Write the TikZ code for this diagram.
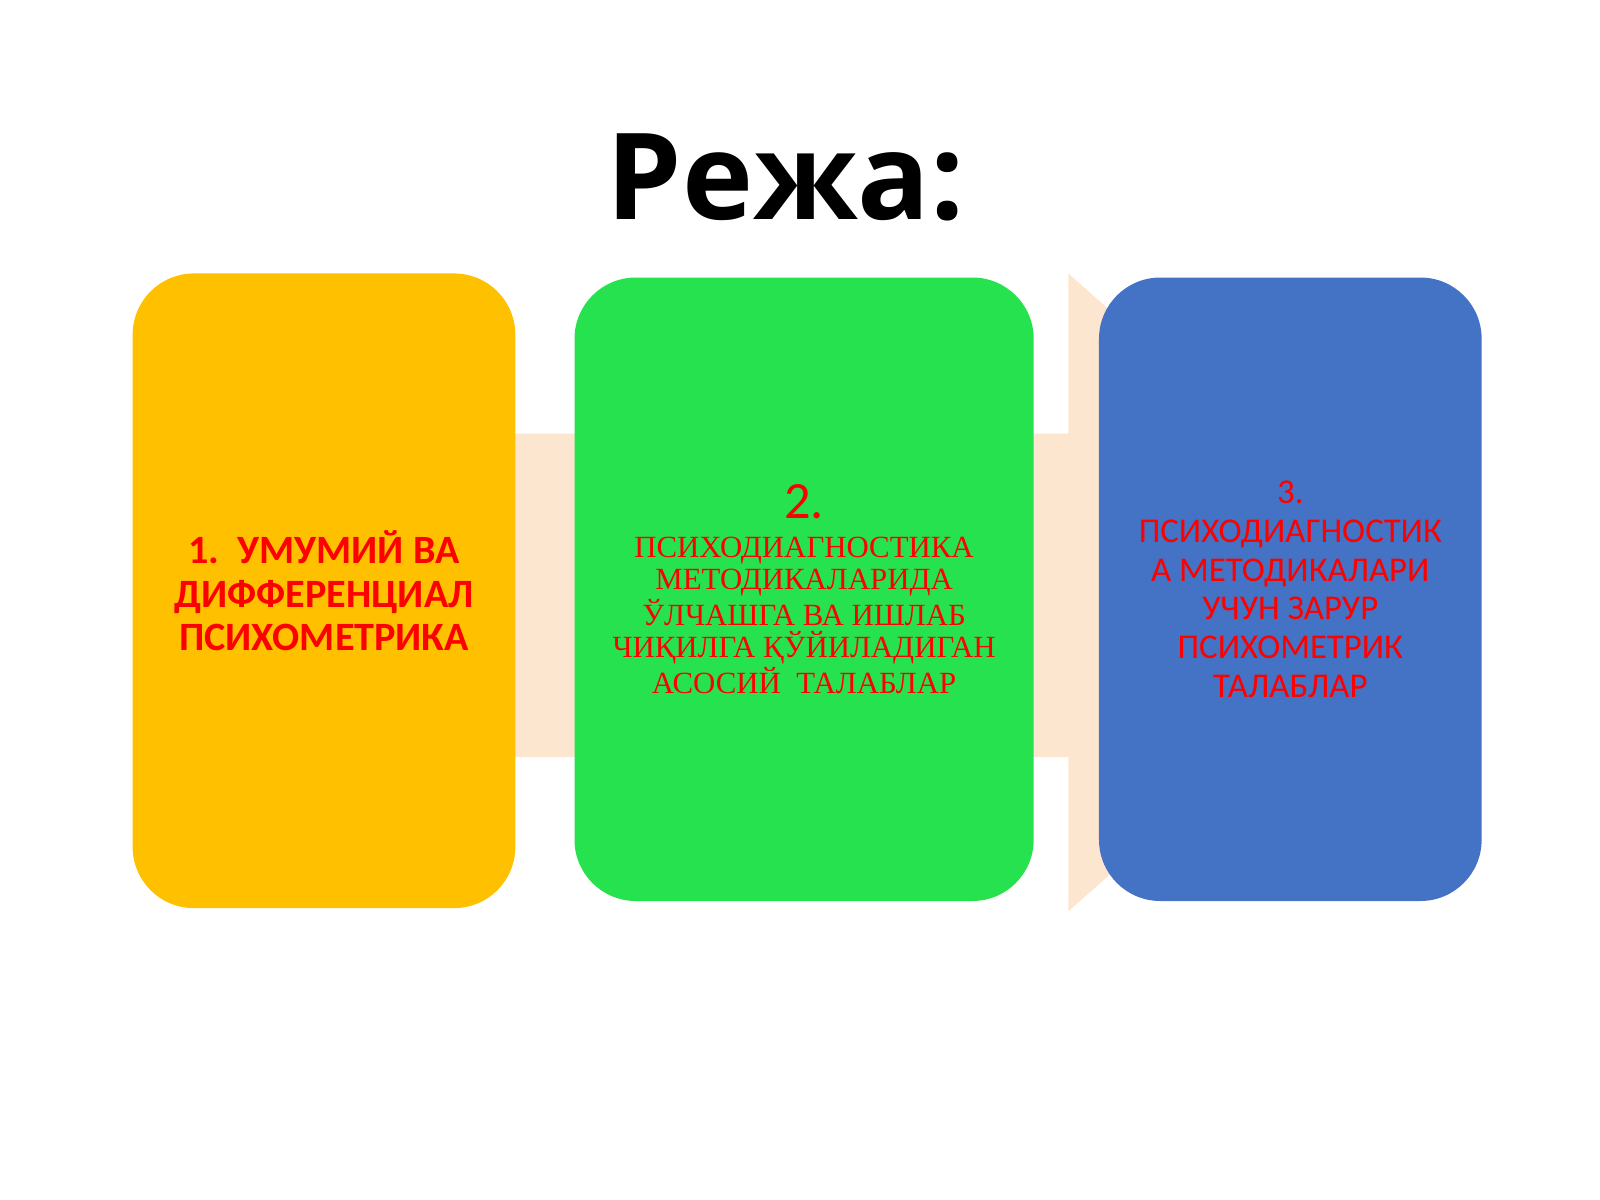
\documentclass[tikz,border=0pt]{standalone}
\usepackage{fontspec}
\usepackage{xcolor}
\usepackage{tikz}
\newfontfamily\titlefont{Open Sans}
\newfontfamily\calfont{Carlito}
\newfontfamily\serfont{Liberation Serif}
\definecolor{peach}{HTML}{FDE6CF}
\definecolor{yellowbox}{HTML}{FFC000}
\definecolor{greenbox}{HTML}{26E24E}
\definecolor{bluebox}{HTML}{4472C4}
\definecolor{itemred}{HTML}{FF0000}

\begin{document}
\begin{tikzpicture}[block/.style={rounded corners=0.6cm, align=center, inner sep=0pt, text=itemred}]
    \useasboundingbox (0,0) rectangle (15.68,11.76);
    \node[font=\titlefont\bfseries\fontsize{33.5}{40}\selectfont, anchor=base] (title) at (7.7, 9.61) {Режа:};

    \fill[peach] (1.5,7.51) -- (10.47,7.51) -- (10.47,9.08) -- (14,5.94) -- (10.47,2.83) -- (10.47,4.34) -- (1.5,4.34) -- cycle;

    \node[block, fill=yellowbox, minimum width=3.75cm, minimum height=6.22cm,
          font=\calfont\bfseries\fontsize{11.2}{12.1}\selectfont] (1) at (3.175, 5.97)
          {1.\ \ УМУМИЙ ВА\\ДИФФЕРЕНЦИАЛ\\ПСИХОМЕТРИКА};
    \node[block, fill=greenbox, minimum width=4.5cm, minimum height=6.11cm,
          font=\serfont\fontsize{8.6}{8.9}\selectfont] (2) at (7.88, 5.985)
          {{\calfont\fontsize{14.6}{15}\selectfont 2.}\\[2.0pt]ПСИХОДИАГНОСТИКА\\МЕТОДИКАЛАРИДА\\ЎЛЧАШГА ВА ИШЛАБ\\ЧИҚИЛГА ҚЎЙИЛАДИГАН\\АСОСИЙ\ \ ТАЛАБЛАР};
    \node[block, fill=bluebox, minimum width=3.75cm, minimum height=6.11cm,
          font=\calfont\fontsize{9.7}{10.8}\selectfont] (3) at (12.645, 5.985)
          {3.\\ПСИХОДИАГНОСТИК\\А МЕТОДИКАЛАРИ\\УЧУН ЗАРУР\\ПСИХОМЕТРИК\\ТАЛАБЛАР};
\end{tikzpicture}
\end{document}
